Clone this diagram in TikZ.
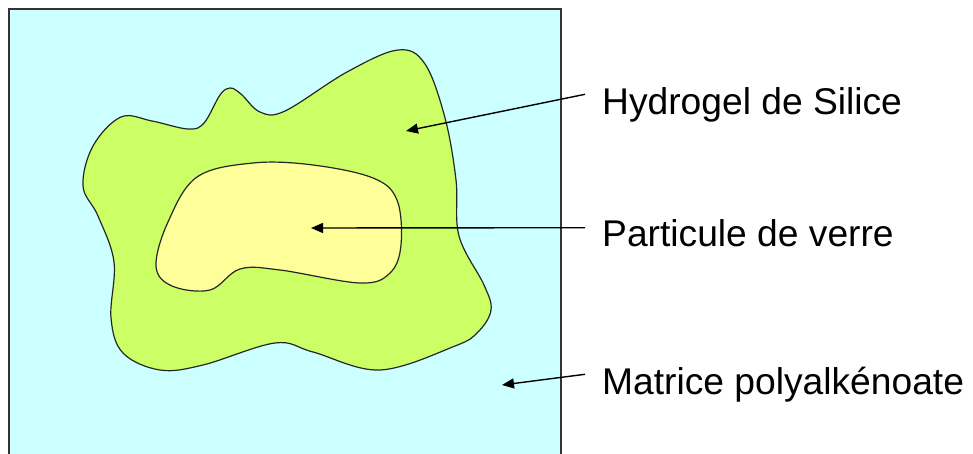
\documentclass[tikz,border=0pt]{standalone}
\usepackage{fontspec}
\setmainfont{Liberation Sans}
\usetikzlibrary{arrows.meta}
\definecolor{matrixcyan}{HTML}{CCFFFF}
\definecolor{gelgreen}{HTML}{CCFF66}
\definecolor{glassyellow}{HTML}{FFFF99}

\begin{document}
\begin{tikzpicture}[x=1pt,y=-1pt,
  blob/.style={draw=black!85, line width=1.2pt},
  caption/.style={font=\fontsize{37.2}{40}\selectfont, anchor=base west, inner sep=0pt},
  pointer/.style={draw=black, line width=1.4pt, -{Triangle[length=12pt,width=10pt]}}]
\useasboundingbox (0,0) rectangle (973,454);
\fill[matrixcyan] (9,9) rectangle (561,454);
\draw[black!80, line width=1.5pt] (9,454) -- (9,9) -- (561,9) -- (561,454);
\draw[blob, fill=gelgreen] plot[smooth cycle, tension=0.6] coordinates {
  (83,186) (93,146) (121,117) (152,121) (188,129) (204,123) (220,95) (230,88)
  (241,94) (260,112) (285,111) (347,72) (398,50) (425,64) (445,118) (456,180)
  (459,236) (484,285) (491,310) (478,332) (455,346) (380,370) (313,352) (275,343)
  (203,365) (160,370) (123,353) (111,318) (114,262) (98,216)};
\draw[blob, fill=glassyellow] plot[smooth cycle, tension=0.6] coordinates {
  (156,266) (168,222) (197,177) (253,163) (313,165) (373,178) (397,200) (401,245)
  (390,273) (360,283) (280,270) (240,269) (210,290) (172,286)};
\coordinate (gelpt) at (406,131);
\coordinate (glasspt) at (311,228);
\coordinate (matrixpt) at (502,385);
\node[caption] (hydrogel) at (602,114.3) {Hydrogel de Silice};
\node[caption] (particule) at (602,246.7) {Particule de verre};
\node[caption] (matrice) at (602,394.3) {Matrice polyalkénoate};
\draw[pointer] ([shift={(-17,-20)}]hydrogel.base west) -- (gelpt);
\draw[pointer] ([shift={(-17,-19)}]particule.base west) -- (glasspt);
\draw[pointer] ([shift={(-17,-20)}]matrice.base west) -- (matrixpt);
\end{tikzpicture}
\end{document}
